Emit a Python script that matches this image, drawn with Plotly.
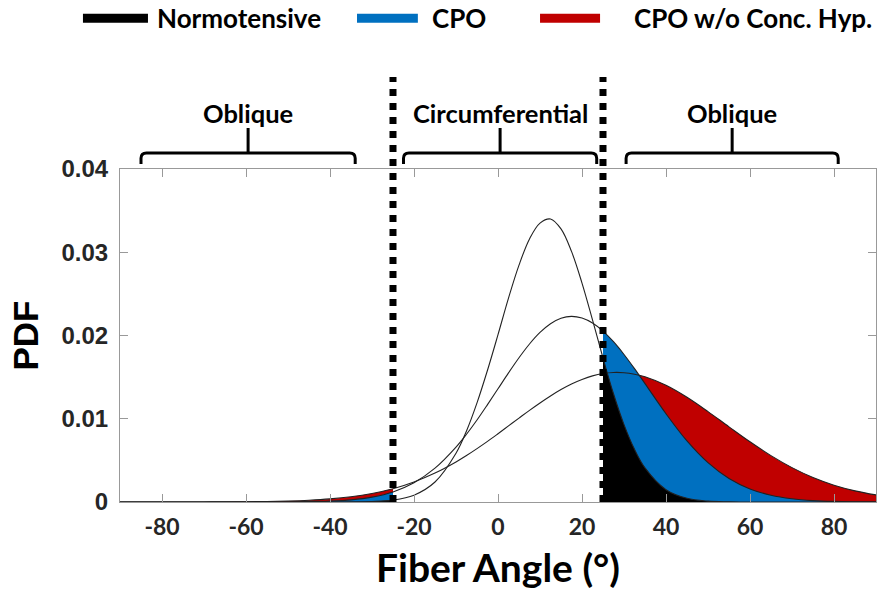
import plotly.graph_objects as go

# ---------------- data ----------------
angle = [-90, -85, -80, -75, -70, -65, -60, -55, -50, -45, -40, -35, -30, -25,
         -20, -15,
         -10, -7.5, -5, -2.5, 0, 2.5, 5, 7.5, 10, 12.5, 15, 17.5, 20, 22.5, 25,
         27.5, 30, 32.5, 35,
         40, 45, 50, 55, 60, 65, 70, 75, 80, 85, 90]

normotensive = [0, 0, 0, 0, 0, 0, 0, 0, 0, 0,
                0.000002, 0.000011, 0.000056, 0.00023, 0.00082, 0.0024,
                0.00585, 0.00853, 0.0119, 0.01583, 0.0201, 0.02449, 0.02845,
                0.0316, 0.0335, 0.0340, 0.0328, 0.0301, 0.0263, 0.02188, 0.0173,
                0.0130, 0.0093, 0.00633, 0.0041,
                0.00148, 0.00044, 0.0001, 0.00002, 0, 0, 0, 0, 0, 0, 0]

cpo = [0, 0, 0, 0, 0, 0.0000004, 0.0000014, 0.0000046, 0.000014, 0.000041,
       0.000108, 0.00026, 0.00059, 0.00121, 0.00231, 0.00406,
       0.00659, 0.00814, 0.00985, 0.0117, 0.0136, 0.01551, 0.01733, 0.01898,
       0.02037, 0.02142, 0.02208, 0.0223, 0.0221, 0.0215, 0.02053, 0.01925,
       0.01772, 0.01602, 0.01422,
       0.0106, 0.00733, 0.00472, 0.00282, 0.00157, 0.00081, 0.00039, 0.00017,
       0.00007, 0.00003, 0.00001]

cpo_no_ch = [0, 0.000001, 0.000001, 0.000003, 0.000007, 0.000015, 0.00003,
             0.00006, 0.000115, 0.00021, 0.00037, 0.00063, 0.00103, 0.0016,
             0.00241, 0.00347,
             0.00481, 0.00558, 0.00641, 0.00728, 0.0082, 0.00914, 0.01008,
             0.01101, 0.0119, 0.01274, 0.01351, 0.01418, 0.01472, 0.01515,
             0.01543, 0.01556, 0.01553, 0.01535, 0.01504,
             0.01402, 0.01258, 0.01086, 0.00903, 0.00723, 0.00557, 0.00413,
             0.00294, 0.00202, 0.00134, 0.00085]

series_names = ["Normotensive", "CPO", "CPO w/o Conc. Hyp."]
series_colors = ["#000000", "#0070C0", "#C00000"]

boundaries = [-25, 25]          # circumferential band limits (deg)
region_labels = ["Oblique", "Circumferential", "Oblique"]
region_spans = [(-85, -34), (-22.5, 23.5), (30.5, 81)]

x_ticks = [-80, -60, -40, -20, 0, 20, 40, 60, 80]
x_ticktext = ["-80", "-60", "-40", "-20", "0", "20", "40", "60", "80"]
y_ticks = [0, 0.01, 0.02, 0.03, 0.04]
y_ticktext = ["0", "0.01", "0.02", "0.03", "0.04"]

CAL = "Lato"
ARIAL = "Liberation Sans"

fig = go.Figure()

series = [normotensive, cpo, cpo_no_ch]
lo, hi = boundaries

# fills: red at the back, blue, then black on top
for idx in [2, 1, 0]:
    vals = series[idx]
    xr = [a for a in angle if a >= hi]
    yr = [v for a, v in zip(angle, vals) if a >= hi]
    xl = [a for a in angle if a <= lo]
    yl = [v for a, v in zip(angle, vals) if a <= lo]
    for xs, ys in [(xr, yr), (xl, yl)]:
        fig.add_trace(go.Scatter(
            x=xs, y=ys, mode="lines", fill="tozeroy",
            fillcolor=series_colors[idx],
            line=dict(color=series_colors[idx], width=0, shape="spline"),
            showlegend=False, hoverinfo="skip"))

# thin outline of each full distribution
for idx in [2, 1, 0]:
    fig.add_trace(go.Scatter(
        x=angle, y=series[idx], mode="lines", name=series_names[idx],
        line=dict(color="#222222", width=1.1, shape="spline"),
        showlegend=False))

shapes = []
# dotted boundaries
for b in boundaries:
    shapes.append(dict(type="line", xref="x", yref="paper", x0=b, x1=b,
                       y0=0, y1=1.276,
                       line=dict(color="black", width=7, dash="dot")))

# brackets
y_tip, y_line, y_stem = 1.015, 1.048, 1.123
rx, ry = 1.3, 0.016
annotations = []
for (a, b), lab in zip(region_spans, region_labels):
    c = (a + b) / 2
    path = (f"M {a},{y_tip} L {a},{y_line - ry} Q {a},{y_line} {a + rx},{y_line} "
            f"L {b - rx},{y_line} Q {b},{y_line} {b},{y_line - ry} L {b},{y_tip} "
            f"M {c},{y_line} L {c},{y_stem}")
    shapes.append(dict(type="path", xref="x", yref="paper", path=path,
                       line=dict(color="black", width=3)))
    annotations.append(dict(x=c, y=1.168, xref="x", yref="paper", text=lab,
                            showarrow=False, xanchor="center", yanchor="middle",
                            font=dict(family=CAL, size=25.5, color="black",
                                      weight="bold")))

# manual legend (long line samples)
leg_bars = [(-0.049, 0.037), (0.3135, 0.394), (0.5556, 0.635)]
leg_text_x = [0.0463, 0.410, 0.677]
leg_y = 1.453
for (x0, x1), tx, name, col in zip(leg_bars, leg_text_x, series_names, series_colors):
    shapes.append(dict(type="line", xref="paper", yref="paper", x0=x0, x1=x1,
                       y0=leg_y, y1=leg_y, line=dict(color=col, width=9)))
    annotations.append(dict(x=tx, y=leg_y, xref="paper", yref="paper", text=name,
                            showarrow=False, xanchor="left", yanchor="middle",
                            font=dict(family=CAL, size=26, color="black",
                                      weight="bold")))

fig.update_layout(
    width=891, height=596,
    margin=dict(l=120, r=15, t=169, b=94),
    paper_bgcolor="white", plot_bgcolor="white",
    showlegend=False,
    shapes=shapes, annotations=annotations,
)

fig.update_xaxes(
    range=[-90, 90], tickvals=x_ticks, ticktext=x_ticktext, ticks="inside",
    ticklen=8, tickcolor="#999999", showline=True, linecolor="#999999",
    linewidth=1, mirror="ticks", showgrid=False, zeroline=False,
    tickfont=dict(family=CAL, size=23, color="#262626", weight="bold"),
    ticklabelstandoff=4,
    title=dict(text="Fiber Angle (°)", standoff=16,
               font=dict(family=CAL, size=39, color="black", weight="bold")),
)
fig.update_yaxes(
    range=[0, 0.04], tickvals=y_ticks, ticktext=y_ticktext, ticks="inside",
    ticklen=8, tickcolor="#999999", showline=True, linecolor="#999999",
    linewidth=1, mirror="ticks", showgrid=False, zeroline=False,
    tickfont=dict(family=ARIAL, size=24, color="#262626", weight="bold"),
    ticklabelstandoff=6,
    title=dict(text="PDF", standoff=12,
               font=dict(family=ARIAL, size=35, color="black", weight="bold")),
)

fig.write_html("out.html")
